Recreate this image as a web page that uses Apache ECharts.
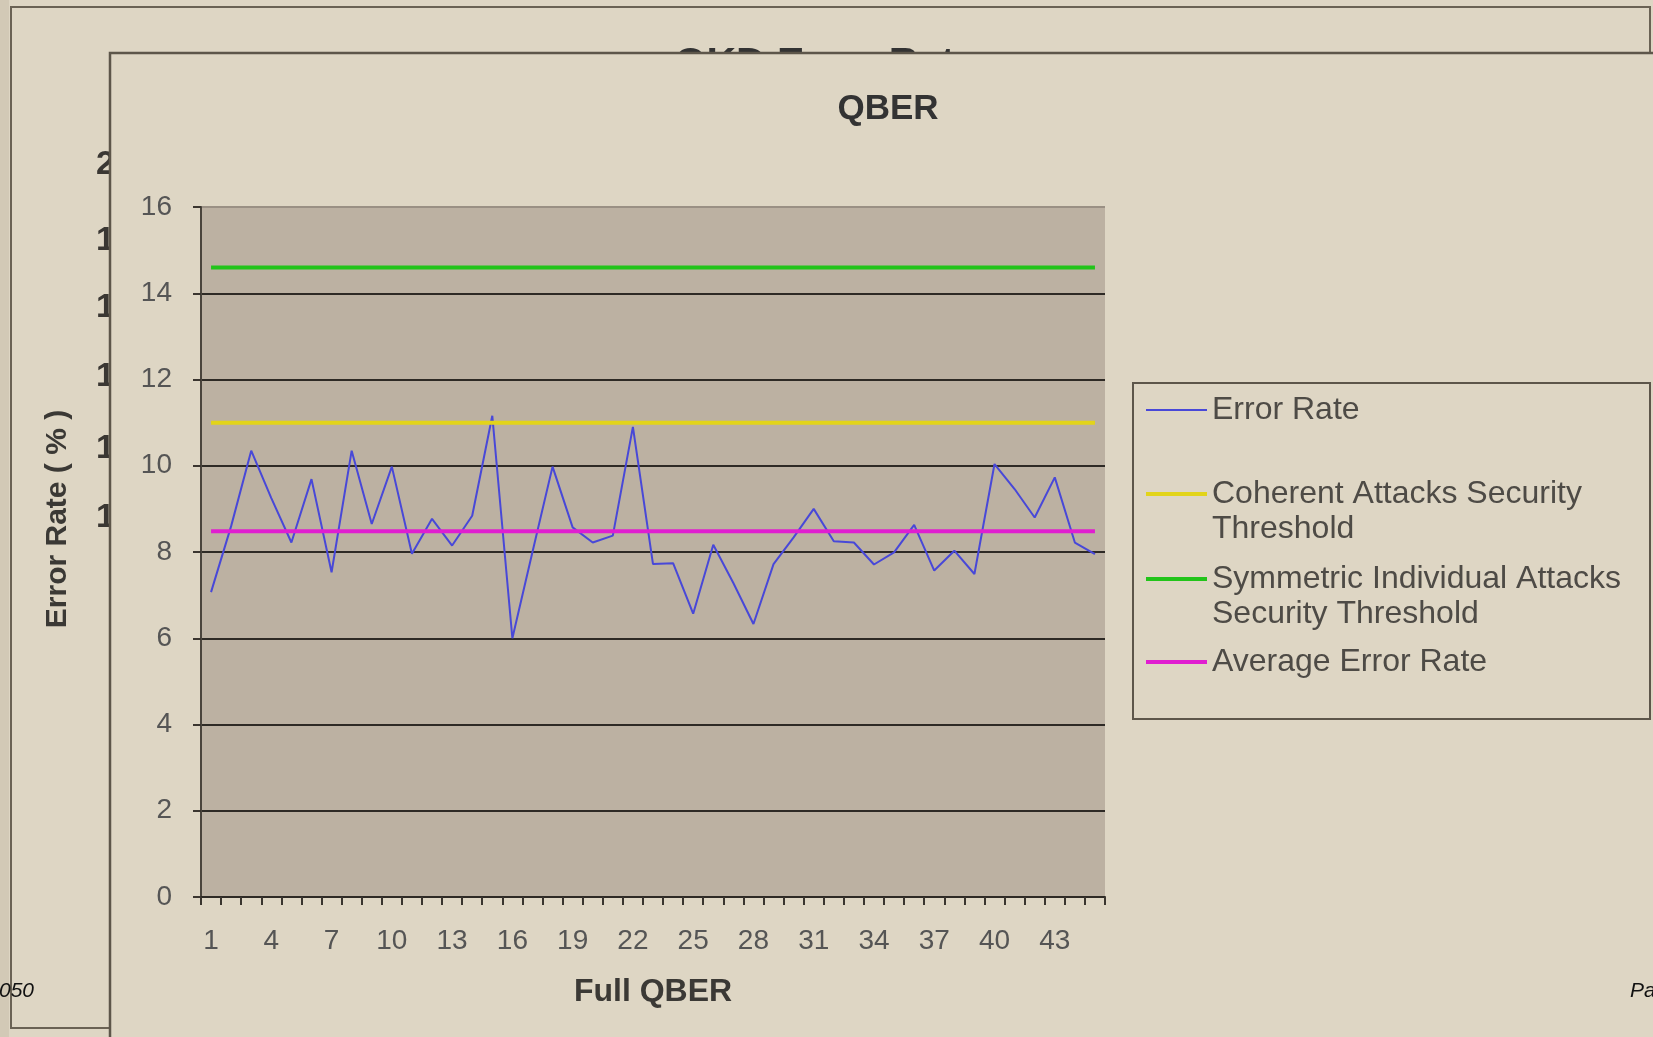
<!DOCTYPE html>
<html>
<head>
<meta charset="utf-8">
<title>QBER</title>
<script src="https://cdn.jsdelivr.net/npm/echarts@6/dist/echarts.min.js"></script>
<style>
  html, body { margin: 0; padding: 0; background: #ded6c4; }
  #chart { width: 1653px; height: 1037px; }
</style>
</head>
<body>
<div id="chart"></div>
<script>
// Sample index of each full QBER measurement
const categories = ['1','2','3','4','5','6','7','8','9','10','11','12','13','14','15',
  '16','17','18','19','20','21','22','23','24','25','26','27','28','29','30',
  '31','32','33','34','35','36','37','38','39','40','41','42','43','44','45'];

// Measured quantum bit error rate (%)
const errorRate = [7.07, 8.6, 10.35, 9.25, 8.22, 9.69, 7.53, 10.35, 8.65, 9.98,
  7.96, 8.77, 8.15, 8.84, 11.16, 6.0, 8.0, 9.98, 8.57, 8.22,
  8.38, 10.9, 7.72, 7.74, 6.57, 8.17, 7.28, 6.33, 7.72, 8.34,
  9.0, 8.25, 8.22, 7.71, 7.99, 8.63, 7.57, 8.03, 7.49, 10.04,
  9.46, 8.8, 9.73, 8.22, 7.95];

// Coherent attacks security threshold (%)
const coherentThreshold = [11, 11, 11, 11, 11, 11, 11, 11, 11, 11, 11, 11, 11, 11, 11,
  11, 11, 11, 11, 11, 11, 11, 11, 11, 11, 11, 11, 11, 11, 11,
  11, 11, 11, 11, 11, 11, 11, 11, 11, 11, 11, 11, 11, 11, 11];

// Symmetric individual attacks security threshold (%)
const symmetricThreshold = [14.6, 14.6, 14.6, 14.6, 14.6, 14.6, 14.6, 14.6, 14.6, 14.6, 14.6, 14.6, 14.6, 14.6, 14.6,
  14.6, 14.6, 14.6, 14.6, 14.6, 14.6, 14.6, 14.6, 14.6, 14.6, 14.6, 14.6, 14.6, 14.6, 14.6,
  14.6, 14.6, 14.6, 14.6, 14.6, 14.6, 14.6, 14.6, 14.6, 14.6, 14.6, 14.6, 14.6, 14.6, 14.6];

// Average of the measured error rate (%)
const averageErrorRate = [8.48, 8.48, 8.48, 8.48, 8.48, 8.48, 8.48, 8.48, 8.48, 8.48, 8.48, 8.48, 8.48, 8.48, 8.48,
  8.48, 8.48, 8.48, 8.48, 8.48, 8.48, 8.48, 8.48, 8.48, 8.48, 8.48, 8.48, 8.48, 8.48, 8.48,
  8.48, 8.48, 8.48, 8.48, 8.48, 8.48, 8.48, 8.48, 8.48, 8.48, 8.48, 8.48, 8.48, 8.48, 8.48];

// Y axis range
const yMin = 0;
const yMax = 16;
const yStep = 2;

// Series names and their legend labels
const seriesNames = ['Error Rate', 'Coherent Attacks Security Threshold',
  'Symmetric Individual Attacks Security Threshold', 'Average Error Rate'];
const legendLabels = ['Error Rate', '\nCoherent Attacks Security\nThreshold',
  '\nSymmetric Individual Attacks\nSecurity Threshold', 'Average Error Rate'];

// Labels of the slide chart lying underneath
const underlayTitle = 'QKD Error Rate';
const underlayTicks = ['20', '18', '16', '14', '12', '10'];

const FONT = '"Liberation Sans", Arial, Helvetica, sans-serif';
const BG = '#ded6c4';
const COLORS = ['#4848d8', '#e2d41a', '#22c41a', '#e01ed0'];

const chart = echarts.init(document.getElementById('chart'), null, { renderer: 'canvas' });

const legendTops = [392.5, 441.5, 526.5, 644.5];
const legends = seriesNames.map((name, i) => ({
  data: [name],
  left: 1146,
  top: legendTops[i],
  padding: 0,
  icon: 'rect',
  itemWidth: 61,
  itemHeight: i === 0 ? 2 : 4,
  selectedMode: false,
  formatter: () => legendLabels[i],
  textStyle: { fontFamily: FONT, fontSize: 32, color: '#4e4b46', lineHeight: 35 }
}));

const underlayTickYs = [165, 241, 308, 377, 449, 518];

const option = {
  animation: false,
  backgroundColor: BG,
  title: {
    text: 'QBER',
    left: 888,
    top: 92,
    padding: 0,
    textAlign: 'center',
    textStyle: { fontFamily: FONT, fontSize: 35, fontWeight: 'bold', color: '#333' }
  },
  legend: legends,
  grid: {
    left: 201, right: 548, top: 207, bottom: 140,
    show: true, backgroundColor: '#bcb1a2', borderWidth: 0
  },
  xAxis: {
    type: 'category',
    data: categories,
    boundaryGap: true,
    name: 'Full QBER',
    nameLocation: 'middle',
    nameGap: 79,
    nameTextStyle: { fontFamily: FONT, fontSize: 32, fontWeight: 'bold', color: '#3b3935' },
    axisLine: { show: true, lineStyle: { color: '#2e2a25', width: 2 } },
    axisTick: { show: true, interval: 0, length: 8, lineStyle: { color: '#3a352f', width: 2 } },
    axisLabel: { interval: 2, fontFamily: FONT, fontSize: 28, color: '#555', margin: 30 },
    splitLine: { show: false }
  },
  yAxis: {
    type: 'value',
    min: yMin, max: yMax, interval: yStep,
    name: 'Error Rate ( % )',
    nameLocation: 'middle',
    nameRotate: 90,
    nameGap: 128,
    nameTextStyle: { fontFamily: FONT, fontSize: 30, fontWeight: 'bold', color: '#3b3935',
                     padding: [0, 0, 0, 66] },
    axisLine: { show: true, lineStyle: { color: '#4a443c', width: 2 } },
    axisTick: { show: true, length: 8, lineStyle: { color: '#3a352f', width: 2 } },
    axisLabel: { fontFamily: FONT, fontSize: 28, color: '#555', margin: 29 },
    splitLine: {
      show: true,
      lineStyle: {
        width: 2,
        color: ['#2e2a25', '#2e2a25', '#2e2a25', '#2e2a25', '#2e2a25',
                '#2e2a25', '#2e2a25', '#2e2a25', '#9a9084']
      }
    }
  },
  series: [
    { name: seriesNames[0], type: 'line', data: errorRate, symbol: 'none',
      itemStyle: { color: COLORS[0] }, lineStyle: { color: COLORS[0], width: 2 } },
    { name: seriesNames[1], type: 'line', data: coherentThreshold, symbol: 'none',
      itemStyle: { color: COLORS[1] }, lineStyle: { color: COLORS[1], width: 4 } },
    { name: seriesNames[2], type: 'line', data: symmetricThreshold, symbol: 'none',
      itemStyle: { color: COLORS[2] }, lineStyle: { color: COLORS[2], width: 4 } },
    { name: seriesNames[3], type: 'line', data: averageErrorRate, symbol: 'none',
      itemStyle: { color: COLORS[3] }, lineStyle: { color: COLORS[3], width: 4 } }
  ],
  graphic: [
    // ruled strip along the left slide edge
    { type: 'rect', z: -10, shape: { x: 0, y: 0, width: 9, height: 1037 }, style: { fill: '#d2c9b6' } },
    // frame of the slide chart underneath
    { type: 'rect', z: -9, shape: { x: 11, y: 7, width: 1639, height: 1021 },
      style: { fill: BG, stroke: '#6a6254', lineWidth: 2 } },
    { type: 'text', z: -8, x: 826, y: 44,
      style: { text: underlayTitle, align: 'center', verticalAlign: 'top',
               font: 'bold 41px ' + FONT, fill: '#333' } },
    ...underlayTicks.map((t, i) => ({
      type: 'text', z: -8, x: 96, y: underlayTickYs[i],
      style: { text: t, align: 'left', verticalAlign: 'middle',
               font: 'bold 34px ' + FONT, fill: '#3a3733' }
    })),
    // frame of the QBER chart
    { type: 'rect', z: -7, shape: { x: 110, y: 53, width: 1700, height: 1100 },
      style: { fill: BG, stroke: '#5d564a', lineWidth: 2.5 } },
    // legend frame
    { type: 'rect', z: -6, shape: { x: 1133, y: 383, width: 517, height: 336 },
      style: { fill: 'none', stroke: '#5d564a', lineWidth: 2 } },
    // slide footer
    { type: 'text', z: -5, x: -1, y: 991,
      style: { text: '050', align: 'left', verticalAlign: 'middle',
               font: 'italic 21px ' + FONT, fill: '#111' } },
    { type: 'text', z: -5, x: 1630, y: 991,
      style: { text: 'Pa', align: 'left', verticalAlign: 'middle',
               font: 'italic 21px ' + FONT, fill: '#111' } }
  ]
};

chart.setOption(option);
</script>
</body>
</html>
